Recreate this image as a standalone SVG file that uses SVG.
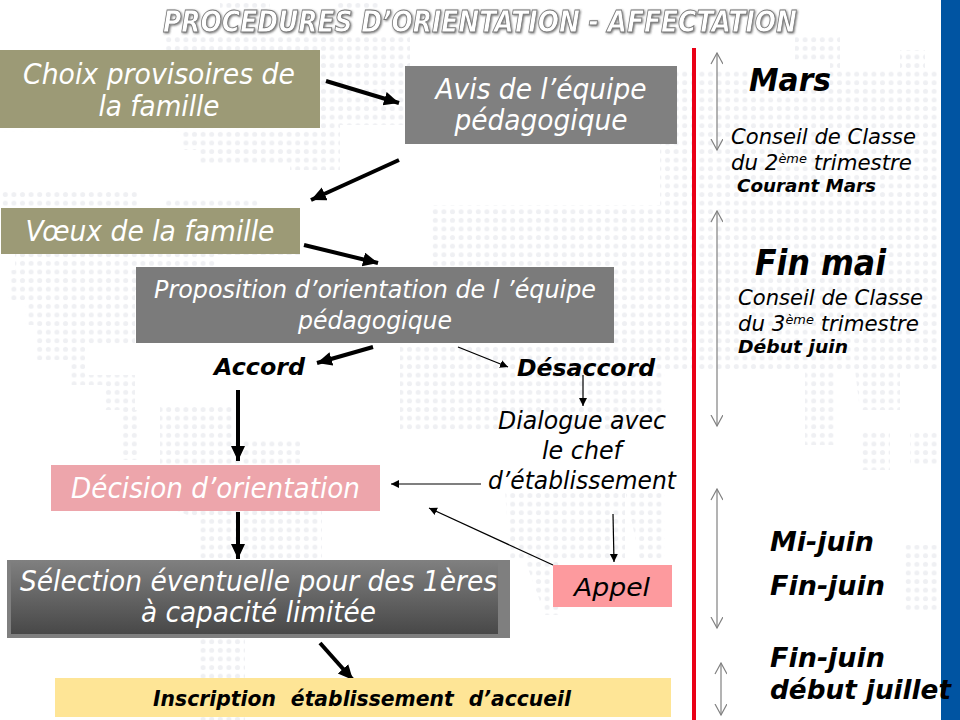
<svg xmlns="http://www.w3.org/2000/svg" width="960" height="720" viewBox="0 0 960 720">
<style>
text{font-family:"DejaVu Sans","Liberation Sans",sans-serif;font-style:italic;text-anchor:middle}
.w{fill:#fff;font-size:27.500px}
.p{fill:#fff;font-size:24px}
.k{fill:#000;font-size:25.500px}
.b{fill:#000;font-weight:bold}
.c{fill:#000;font-size:21.500px;text-anchor:start}
.thick{stroke:#000;stroke-width:4;fill:none;marker-end:url(#big)}
.thin{stroke:#000;stroke-width:1.2;fill:none;marker-end:url(#small)}
.span{stroke:#808080;stroke-width:1.2;fill:none;marker-start:url(#openS);marker-end:url(#openE)}
</style>
<defs>
<pattern id="dots" width="8.6" height="8.6" patternUnits="userSpaceOnUse" x="1" y="1">
<circle cx="4.3" cy="4.3" r="2.5" fill="#eff0f3"/>
</pattern>
<clipPath id="map">
<path d="M220 3H270V9H220ZM335 3H378V9H335Z"/>
<path d="M165 35H410V125H340V170H290V165H200V150H180V132H0V190H138V210H165V200H260V208H300V255H215V290H135V345H85V375H135V410H140V460H120V410H105V385H70V360H35V325H25V300H8V270H15V208H0V130H165Z"/>
<path d="M140 405H235V440H300V465H160V405Z"/>
<path d="M175 510H322V560H200V520ZM200 638H245V720H200Z"/>
<path d="M430 205H690V370H665V430H400V340H440V300H430Z"/>
<path d="M505 490H625V560H510Z"/>
<path d="M525 560H560V615H545Z"/>
<path d="M625 490H665V560H640Z"/>
<path d="M660 70H760V90H830V60H795V35H840V70H940V370H835V445H805V370H660Z"/>
<path d="M900 50H925V70H900Z"/>
<path d="M860 430H890V470H860ZM910 430H940V465H910ZM905 545H940V610H905ZM855 370H900V410H860Z"/>
</clipPath>
<linearGradient id="sel" x1="0" y1="0" x2="0" y2="1">
<stop offset="0" stop-color="#808080"/>
<stop offset="1" stop-color="#484848"/>
</linearGradient>
<filter id="sh" x="-5%" y="-30%" width="110%" height="160%">
<feDropShadow dx="1" dy="1" stdDeviation=".8" flood-color="#555" flood-opacity=".8"/>
</filter>
<marker id="big" markerUnits="userSpaceOnUse" markerWidth="20" markerHeight="18" refX="15" refY="7" orient="auto">
<path d="M0 0L15 7L0 14Z" fill="#000"/>
</marker>
<marker id="small" markerUnits="userSpaceOnUse" markerWidth="10" markerHeight="10" refX="8" refY="4" orient="auto">
<path d="M0 0L8 4L0 8Z" fill="#000"/>
</marker>
<marker id="openE" markerUnits="userSpaceOnUse" markerWidth="14" markerHeight="14" refX="11" refY="6" orient="auto">
<path d="M0 0L11 6L0 12" fill="none" stroke="#808080" stroke-width="1.2"/>
</marker>
<marker id="openS" markerUnits="userSpaceOnUse" markerWidth="14" markerHeight="14" refX="1" refY="6" orient="auto">
<path d="M12 0L1 6L12 12" fill="none" stroke="#808080" stroke-width="1.2"/>
</marker>
</defs>

<rect width="960" height="720" fill="#fff"/>
<rect width="941" height="720" fill="url(#dots)" clip-path="url(#map)"/>
<rect x="941" width="19" height="720" fill="#0054a2"/>
<rect x="692" y="48" width="4" height="672" fill="#ea0016"/>

<text x="480" y="32" font-size="30" font-weight="bold" textLength="634" lengthAdjust="spacingAndGlyphs" fill="#fff" stroke="#777" stroke-width=".9" filter="url(#sh)">PROCEDURES D’ORIENTATION - AFFECTATION</text>

<g id="connectors">
<path class="thick" d="M326 81L399 103"/>
<path class="thick" d="M399 160L311 200"/>
<path class="thick" d="M304 245L378 263"/>
<path class="thick" d="M373 347L317 363"/>
<path class="thick" d="M238 390V461"/>
<path class="thick" d="M238 512V559"/>
<path class="thick" d="M320 643L353 680"/>
<path class="thin" d="M458 347L508 367"/>
<path class="thin" d="M583 375V406"/>
<path class="thin" d="M481 484H391"/>
<path class="thin" d="M553 565L429 508"/>
<path class="thin" d="M613 514L614 562"/>
<path class="span" d="M717 53V150"/>
<path class="span" d="M717 211V426"/>
<path class="span" d="M717 489V628"/>
<path class="span" d="M721 663V715"/>
</g>

<g id="choix">
<rect x="0" y="50" width="320" height="78" fill="#9c9a76"/>
<text class="w" x="159" y="84" lengthAdjust="spacingAndGlyphs" textLength="272">Choix provisoires de</text>
<text class="w" x="159" y="116" lengthAdjust="spacingAndGlyphs" textLength="121">la famille</text>
</g>
<g id="avis">
<rect x="405" y="66" width="272" height="78" fill="#808080"/>
<text class="w" x="541" y="99" lengthAdjust="spacingAndGlyphs" textLength="211">Avis de l’équipe</text>
<text class="w" x="541" y="130" lengthAdjust="spacingAndGlyphs" textLength="173">pédagogique</text>
</g>
<g id="voeux">
<rect x="1" y="208" width="299" height="46" fill="#9c9a76"/>
<text class="w" x="150" y="241" lengthAdjust="spacingAndGlyphs" textLength="249">Vœux de la famille</text>
</g>
<g id="proposition">
<rect x="136" y="267" width="478" height="76" fill="#7b7b7b"/>
<text class="p" x="375" y="298" lengthAdjust="spacingAndGlyphs" textLength="442">Proposition d’orientation de l ’équipe</text>
<text class="p" x="375" y="329" lengthAdjust="spacingAndGlyphs" textLength="154">pédagogique</text>
</g>
<g id="accord"><text class="b" x="259.500" y="375" font-size="22.500" lengthAdjust="spacingAndGlyphs" textLength="91">Accord</text></g>
<g id="desaccord"><text class="b" x="586" y="376" font-size="22.500" lengthAdjust="spacingAndGlyphs" textLength="138">Désaccord</text></g>
<g id="dialogue">
<text class="k" x="582" y="429" lengthAdjust="spacingAndGlyphs" textLength="168">Dialogue avec</text>
<text class="k" x="582" y="459" lengthAdjust="spacingAndGlyphs" textLength="80">le chef</text>
<text class="k" x="582" y="489" lengthAdjust="spacingAndGlyphs" textLength="188">d’établissement</text>
</g>
<g id="decision">
<rect x="51" y="465" width="329" height="46" fill="#eda5ab"/>
<text class="w" x="215.500" y="498" lengthAdjust="spacingAndGlyphs" textLength="289">Décision d’orientation</text>
</g>
<g id="selection">
<rect x="7" y="560" width="503" height="78" fill="#7f7f7f"/>
<rect x="11" y="560" width="487" height="74" fill="url(#sel)"/>
<text class="w" x="258.500" y="591" lengthAdjust="spacingAndGlyphs" textLength="477">Sélection éventuelle pour des 1ères</text>
<text class="w" x="258.500" y="622" lengthAdjust="spacingAndGlyphs" textLength="235">à capacité limitée</text>
</g>
<g id="appel">
<rect x="553" y="565" width="119" height="42" fill="#fd9a9e"/>
<text class="k" x="612" y="596" lengthAdjust="spacingAndGlyphs" textLength="76">Appel</text>
</g>
<g id="inscription">
<rect x="55" y="678" width="616" height="39" fill="#fee596"/>
<text class="b" x="362" y="706" font-size="20.500" word-spacing="8" lengthAdjust="spacingAndGlyphs" textLength="418">Inscription établissement d’accueil</text>
</g>

<g id="mars"><text class="b" x="790" y="91" font-size="32" lengthAdjust="spacingAndGlyphs" textLength="82">Mars</text></g>
<g id="conseil2">
<text class="c" x="731" y="144" lengthAdjust="spacingAndGlyphs" textLength="185">Conseil de Classe</text>
<text class="c" x="731" y="170" lengthAdjust="spacingAndGlyphs" textLength="181">du 2<tspan font-size="13" dy="-7">ème</tspan><tspan dy="7"> trimestre</tspan></text>
<text class="b" x="806.500" y="192" font-size="18.500" lengthAdjust="spacingAndGlyphs" textLength="139">Courant Mars</text>
</g>
<g id="finmai"><text class="b" x="820.500" y="275" font-size="35" lengthAdjust="spacingAndGlyphs" textLength="131">Fin mai</text></g>
<g id="conseil3">
<text class="c" x="738" y="305" lengthAdjust="spacingAndGlyphs" textLength="185">Conseil de Classe</text>
<text class="c" x="738" y="331" lengthAdjust="spacingAndGlyphs" textLength="181">du 3<tspan font-size="13" dy="-7">ème</tspan><tspan dy="7"> trimestre</tspan></text>
<text class="b" x="793" y="353" font-size="18.500" lengthAdjust="spacingAndGlyphs" textLength="110">Début juin</text>
</g>
<g id="mijuin"><text class="b" x="822" y="551" font-size="26.500" lengthAdjust="spacingAndGlyphs" textLength="104">Mi-juin</text></g>
<g id="finjuin"><text class="b" x="827.500" y="595" font-size="26.500" lengthAdjust="spacingAndGlyphs" textLength="115">Fin-juin</text></g>
<g id="finjuin2">
<text class="b" x="827.500" y="667" font-size="26.500" lengthAdjust="spacingAndGlyphs" textLength="115">Fin-juin</text>
<text class="b" x="860.500" y="699" font-size="26.500" lengthAdjust="spacingAndGlyphs" textLength="181">début juillet</text>
</g>
</svg>
